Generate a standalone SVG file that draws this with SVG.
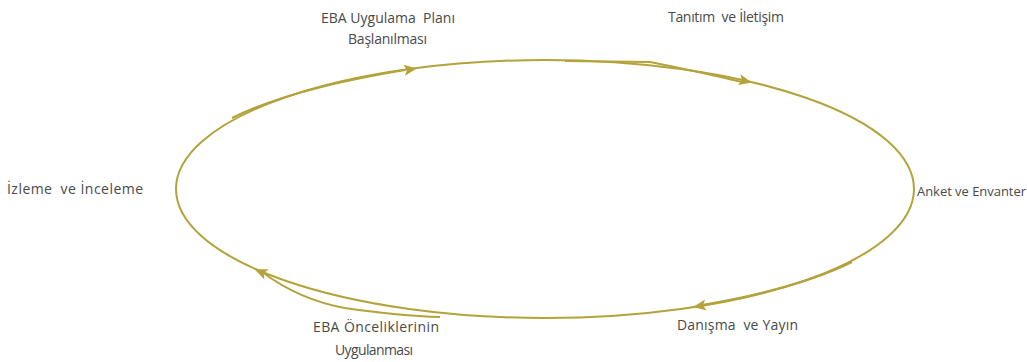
<svg xmlns="http://www.w3.org/2000/svg" width="1027" height="362" viewBox="0 0 1027 362">
<style>
.c{fill:none;stroke:#b4a23a;stroke-width:2}
.t{font-family:"Open Sans","Liberation Sans",sans-serif;font-size:14px;fill:#4a4a4a}
.a{fill:#b4a23a}
</style>
<defs>
<path id="arr" d="M7,0 L-6,-5.5 L-3,0 L-6,5.5 Z"/>
</defs>
<rect width="1027" height="362" fill="#fff"/>
<g id="connectors">
<ellipse class="c" cx="545" cy="189" rx="369" ry="129"/>
<path class="c" d="M232,118 Q290,89 405,70" stroke-width="1.5"/>
<path class="c" d="M565,61 L650,62 Q700,72 742,82" stroke-width="1.5"/>
<path class="c" d="M262,272 Q300,300 345,308 Q400,316 440,317" stroke-width="1.5"/>
<path class="c" d="M852,262 Q800,288 702,305" stroke-width="1.5"/>
<use href="#arr" class="a" transform="translate(410,69.5) rotate(-7.8)"/>
<use href="#arr" class="a" transform="translate(745,81) rotate(12.7)"/>
<use href="#arr" class="a" transform="translate(700,306) rotate(170.8)"/>
<use href="#arr" class="a" transform="translate(261,272) rotate(-157)"/>
</g>
<g id="n1"><text class="t" x="321" y="23" textLength="134" lengthAdjust="spacing" xml:space="preserve">EBA Uygulama  Planı</text><text class="t" x="348" y="44" textLength="79" lengthAdjust="spacing">Başlanılması</text></g>
<g id="n2"><text class="t" x="668" y="22" textLength="116" lengthAdjust="spacing" xml:space="preserve">Tanıtım  ve İletişim</text></g>
<g id="n3"><text class="t" x="917" y="196" style="font-size:13px" textLength="109" lengthAdjust="spacing">Anket ve Envanter</text></g>
<g id="n4"><text class="t" x="677" y="330" textLength="121" lengthAdjust="spacing" xml:space="preserve">Danışma  ve Yayın</text></g>
<g id="n5"><text class="t" x="313" y="332" textLength="126" lengthAdjust="spacing">EBA Önceliklerinin</text><text class="t" x="335" y="355" textLength="78" lengthAdjust="spacing">Uygulanması</text></g>
<g id="n6"><text class="t" x="7" y="194" textLength="136" lengthAdjust="spacing" xml:space="preserve">İzleme  ve İnceleme</text></g>
</svg>
